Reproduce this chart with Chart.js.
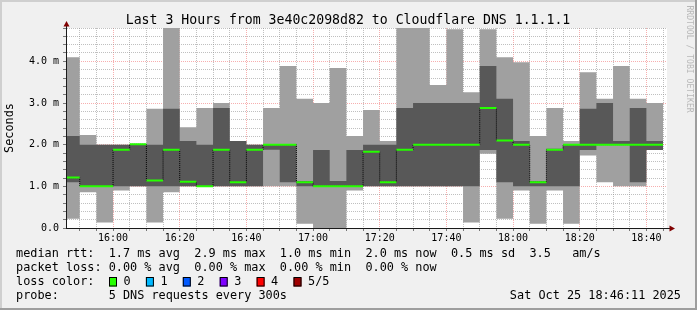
<!DOCTYPE html>
<html>
<head>
<meta charset="utf-8">
<script src="https://cdn.jsdelivr.net/npm/chart.js@4.4.1/dist/chart.umd.min.js"></script>
<style>
  html, body { margin: 0; padding: 0; background: #f0f0f0; }
  canvas { display: block; }
</style>
</head>
<body>
<canvas id="smoke" width="697" height="310"></canvas>
<script>
// 5 min bins, each value holds from its start time to the next one
const binTimes = [
	"15:45", "15:50", "15:55", "16:00", "16:05", "16:10", "16:15", "16:20", "16:25", "16:30",
	"16:35", "16:40", "16:45", "16:50", "16:55", "17:00", "17:05", "17:10", "17:15", "17:20",
	"17:25", "17:30", "17:35", "17:40", "17:45", "17:50", "17:55", "18:00", "18:05", "18:10",
	"18:15", "18:20", "18:25", "18:30", "18:35", "18:40",
];
const lastBinEnd = "18:45";
const startTime = "15:46:11";
const stopTime = "18:46:11";

// sorted pings per bin, in ms
const pingMax = [
	4.10, 2.23, 2.00, 2.00, 2.01, 2.86, 5.00, 2.42, 2.88, 3.00,
	2.09, 2.00, 2.88, 3.89, 3.10, 3.00, 3.84, 2.21, 2.83, 2.09,
	5.00, 5.00, 3.43, 4.77, 3.26, 4.77, 4.10, 3.98, 2.21, 2.88,
	2.09, 3.74, 3.10, 3.89, 3.10, 3.00,
];
const pingHigh = [
	2.21, 2.00, 2.00, 2.00, 2.01, 2.00, 2.86, 2.09, 2.00, 2.88,
	2.09, 2.00, 2.00, 2.00, 1.12, 1.87, 1.13, 1.87, 2.00, 2.00,
	2.88, 3.00, 3.00, 3.00, 3.00, 3.89, 3.10, 2.09, 1.12, 1.90,
	2.00, 2.86, 3.00, 2.09, 2.88, 2.09,
];
const medianRtt = [
	1.21, 1.00, 1.00, 1.88, 2.01, 1.14, 1.88, 1.11, 1.00, 1.88,
	1.10, 1.88, 2.00, 2.00, 1.10, 1.00, 1.00, 1.00, 1.83, 1.10,
	1.88, 2.00, 2.00, 2.00, 2.00, 2.88, 2.10, 2.00, 1.10, 1.88,
	2.00, 2.00, 2.00, 2.00, 2.00, 2.00,
];
const pingLow = [
	1.10, 1.00, 1.00, 1.00, 1.00, 1.00, 1.00, 1.00, 1.00, 1.00,
	1.00, 1.00, 1.88, 1.10, 1.00, 1.00, 1.00, 1.00, 1.00, 1.00,
	1.00, 1.00, 1.00, 1.00, 1.00, 1.87, 1.10, 1.00, 1.00, 1.00,
	1.00, 1.87, 2.00, 2.00, 1.10, 1.87,
];
const pingMin = [
	0.22, 0.86, 0.13, 0.90, 1.00, 0.13, 0.86, 1.00, 1.00, 1.00,
	1.00, 1.00, 1.00, 1.00, 0.10, 0.00, 0.00, 0.90, 1.00, 1.00,
	1.00, 1.00, 1.00, 1.00, 0.13, 1.78, 0.22, 0.90, 0.10, 0.90,
	0.10, 1.74, 1.10, 1.00, 1.00, 1.87,
];

const xTickLabels = ["16:00", "16:20", "16:40", "17:00", "17:20", "17:40", "18:00", "18:20", "18:40"];
const yTickValues = [0, 1, 2, 3, 4];
const yTickLabels = ["0.0", "1.0 m", "2.0 m", "3.0 m", "4.0 m"];

const title = "Last 3 Hours from 3e40c2098d82 to Cloudflare DNS 1.1.1.1";
const legendLines = [
	"median rtt:  1.7 ms avg  2.9 ms max  1.0 ms min  2.0 ms now  0.5 ms sd  3.5   am/s",
	"packet loss: 0.00 % avg  0.00 % max  0.00 % min  0.00 % now",
	"loss color:",
	"probe:       5 DNS requests every 300s",
];
const lossLabels = ["0", "1", "2", "3", "4", "5/5"];
const lossColors = ["#26ff00", "#00b8ff", "#0059ff", "#7e00ff", "#ff0000", "#a00000"];
const stamp = "Sat Oct 25 18:46:11 2025";

const MONO = "'DejaVu Sans Mono', 'Liberation Mono', monospace";
const GRID = "rgba(140,140,140,0.55)";
const MGRID = "rgba(240,110,110,0.55)";

function toMin(s) {
	const p = s.split(":").map(Number);
	return p[0] * 60 + p[1] + (p[2] || 0) / 60;
}

function steps(values) {
	const pts = binTimes.map((t, i) => ({ x: toMin(t), y: values[i] }));
	pts.push({ x: toMin(lastBinEnd), y: values[values.length - 1] });
	return pts;
}

// one flat green piece per bin, broken by gaps
const medianPieces = [];
binTimes.forEach((t, i) => {
	const end = i + 1 < binTimes.length ? binTimes[i + 1] : lastBinEnd;
	medianPieces.push({ x: toMin(t), y: medianRtt[i] });
	medianPieces.push({ x: toMin(end), y: medianRtt[i] });
	medianPieces.push({ x: toMin(end), y: null });
});

const xLabelAt = {};
xTickLabels.forEach((l) => (xLabelAt[toMin(l)] = l));

const area = (values, fill, color, order) => ({
	type: "line",
	data: steps(values),
	stepped: true,
	fill: fill,
	backgroundColor: color,
	borderColor: "transparent",
	borderWidth: 1,
	pointRadius: 0,
	clip: 0,
	order: order,
});

const rrdFrame = {
	id: "rrdFrame",
	beforeDraw(chart) {
		const { ctx, width, height, chartArea: a } = chart;
		ctx.save();
		ctx.fillStyle = "#f0f0f0";
		ctx.fillRect(0, 0, width, height);
		ctx.fillStyle = "#cfcfcf";
		ctx.fillRect(0, 0, width, 2);
		ctx.fillRect(0, 0, 2, height);
		ctx.fillStyle = "#9e9e9e";
		ctx.fillRect(0, height - 2, width, 2);
		ctx.fillRect(width - 2, 0, 2, height);
		ctx.fillStyle = "#ffffff";
		ctx.fillRect(a.left, a.top, a.right - a.left, a.bottom - a.top);
		ctx.restore();
	},
	afterDraw(chart) {
		const { ctx, chartArea: a } = chart;
		ctx.save();

		// axes with arrows
		ctx.strokeStyle = "#1a1a1a";
		ctx.lineWidth = 1;
		ctx.beginPath();
		ctx.moveTo(a.left - 0.5, a.bottom + 0.5);
		ctx.lineTo(a.left - 0.5, a.top - 3);
		ctx.moveTo(a.left - 1, a.bottom + 0.5);
		ctx.lineTo(a.right + 3, a.bottom + 0.5);
		ctx.stroke();
		ctx.fillStyle = "#800000";
		ctx.beginPath();
		ctx.moveTo(a.left - 0.5, a.top - 7);
		ctx.lineTo(a.left - 3.5, a.top - 1.5);
		ctx.lineTo(a.left + 2.5, a.top - 1.5);
		ctx.closePath();
		ctx.fill();
		ctx.beginPath();
		ctx.moveTo(a.right + 8, a.bottom + 0.5);
		ctx.lineTo(a.right + 2.5, a.bottom - 2.5);
		ctx.lineTo(a.right + 2.5, a.bottom + 3.5);
		ctx.closePath();
		ctx.fill();

		// title
		ctx.fillStyle = "#000";
		ctx.font = "13.2px " + MONO;
		ctx.textAlign = "center";
		ctx.textBaseline = "alphabetic";
		ctx.fillText(title, 348, 24);

		// legend block
		ctx.font = "11.85px " + MONO;
		ctx.textAlign = "left";
		ctx.textBaseline = "middle";
		const rows = [254.3, 268.3, 282.3, 296.3];
		legendLines.forEach((line, i) => ctx.fillText(line, 16, rows[i]));
		lossLabels.forEach((lab, i) => {
			const bx = 109 + 36.9 * i;
			ctx.fillStyle = lossColors[i];
			ctx.fillRect(bx, 277.5, 8, 9);
			ctx.strokeStyle = "#000";
			ctx.strokeRect(bx + 0.5, 277.5, 7, 8.5);
			ctx.fillStyle = "#000";
			ctx.fillText(lab, bx + 14.5, rows[2]);
		});
		ctx.textAlign = "right";
		ctx.fillText(stamp, 681, rows[3]);

		// vertical watermark
		ctx.translate(689, 5.5);
		ctx.rotate(Math.PI / 2);
		ctx.font = "8.1px " + MONO;
		ctx.fillStyle = "#b8b8b8";
		ctx.textAlign = "left";
		ctx.fillText("RRDTOOL / TOBI OETIKER", 0, 0);
		ctx.restore();
	},
};

const config = {
	data: {
		datasets: [
			area(pingMax, 1, "#a0a0a0", 5),
			area(pingMin, false, "transparent", 5),
			area(pingHigh, 3, "#585858", 4),
			area(pingLow, false, "transparent", 4),
			{
				type: "line",
				data: steps(medianRtt),
				stepped: true,
				fill: false,
				borderColor: "#000",
				borderWidth: 1,
				borderDash: [1, 1],
				pointRadius: 0,
				clip: 0,
				order: 2,
			},
			{
				type: "line",
				data: medianPieces,
				spanGaps: false,
				fill: false,
				borderColor: "#26ff00",
				borderWidth: 2,
				borderCapStyle: "butt",
				pointRadius: 0,
				clip: 0,
				order: 1,
			},
		],
	},
	options: {
		responsive: false,
		animation: false,
		devicePixelRatio: 1,
		events: [],
		layout: { padding: { top: 28, right: 30, bottom: 0, left: 0 } },
		plugins: { legend: { display: false }, tooltip: { enabled: false } },
		scales: {
			x: {
				type: "linear",
				min: toMin(startTime),
				max: toMin(stopTime),
				afterBuildTicks: (s) => {
					const t = [];
					for (let v = Math.ceil(s.min / 5) * 5; v <= s.max; v += 5) t.push({ value: v });
					s.ticks = t;
				},
				afterFit: (s) => {
					s.height = 82;
				},
				ticks: {
					autoSkip: false,
					maxRotation: 0,
					padding: 1,
					color: "#000",
					font: { family: MONO, size: 10 },
					callback: (v) => xLabelAt[v] || "",
				},
				grid: {
					color: (c) => (c.tick && c.tick.value % 20 === 0 ? MGRID : GRID),
					tickColor: "#777",
					tickLength: 3,
				},
				border: { display: false, dash: [1, 1] },
			},
			y: {
				min: 0,
				max: 4.8,
				afterBuildTicks: (s) => {
					const t = [];
					for (let i = 0; i <= 24; i++) t.push({ value: i / 5 });
					s.ticks = t;
				},
				afterFit: (s) => {
					s.width = 67;
				},
				ticks: {
					autoSkip: false,
					padding: 4,
					color: "#000",
					font: { family: MONO, size: 10 },
					callback: (v) => {
						const i = yTickValues.indexOf(v);
						return i < 0 ? "" : yTickLabels[i];
					},
				},
				grid: {
					color: (c) => (c.tick && c.tick.value > 0 && Number.isInteger(c.tick.value) ? MGRID : GRID),
					tickColor: "#777",
					tickLength: 4,
				},
				border: { display: false, dash: [1, 1] },
				title: {
					display: true,
					text: "Seconds",
					color: "#000",
					font: { family: MONO, size: 11.85 },
					padding: { top: 3, bottom: 0 },
				},
			},
		},
	},
	plugins: [rrdFrame],
};

const chart = new Chart(document.getElementById("smoke"), config);
</script>
</body>
</html>
